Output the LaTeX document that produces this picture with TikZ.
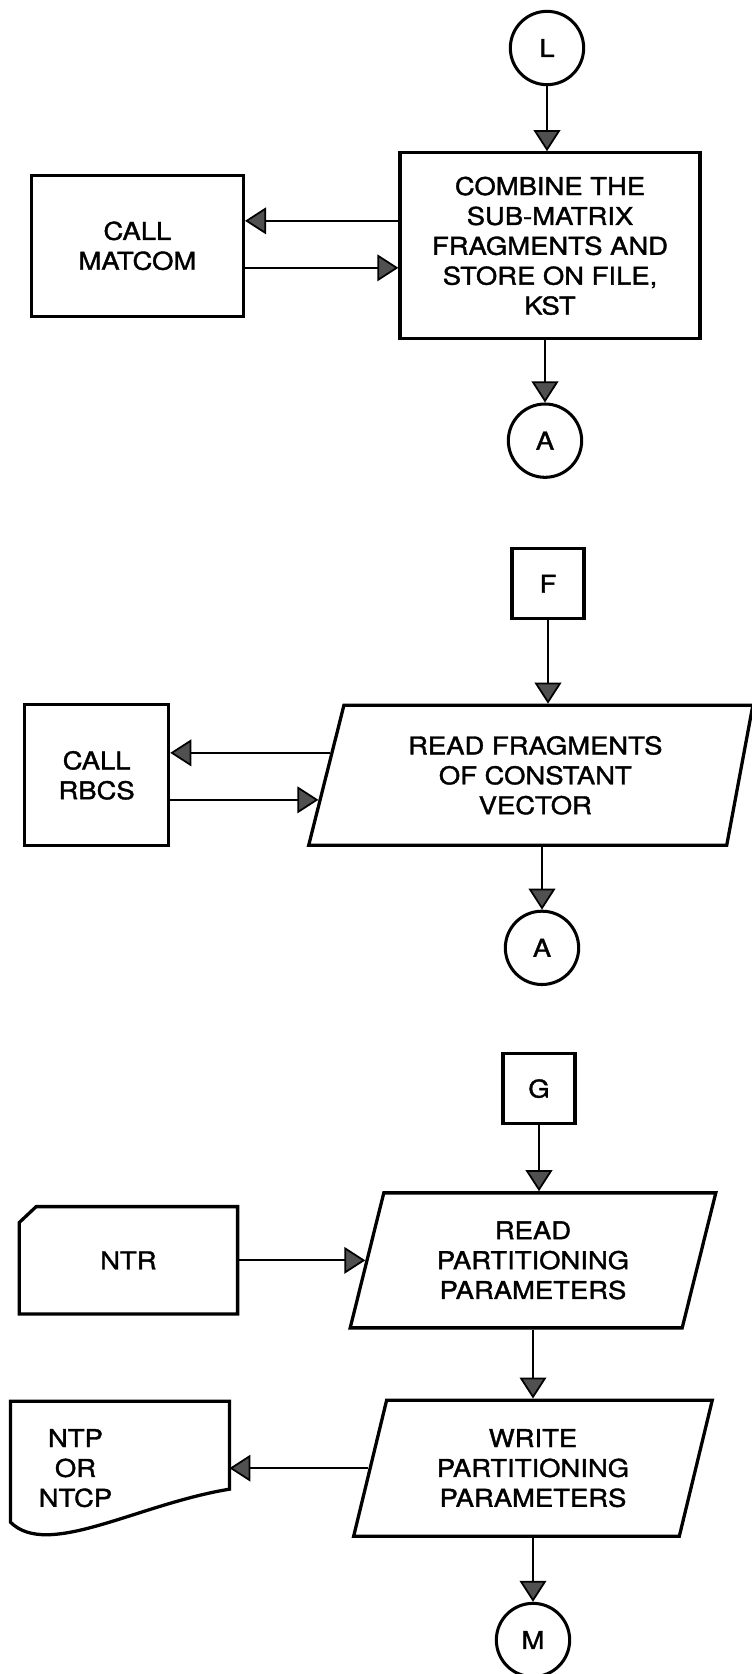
\documentclass[tikz,border=0pt]{standalone}
\usepackage{fontspec}
\setmainfont{TeX Gyre Heros}[FakeStretch=1.12, FakeBold=1.5]
\usepackage{tikz}
\usetikzlibrary{arrows.meta,positioning,shapes.geometric,calc}
\definecolor{tipgrey}{RGB}{80,80,80}

\begin{document}
\begin{tikzpicture}[
          node distance=2cm,
          font=\fontsize{20.9}{25.5}\selectfont,
          proc/.style={draw, line width=2.8pt, align=center, inner sep=2pt},
          io/.style={draw, line width=2.8pt, trapezium,
                     trapezium left angle=75, trapezium right angle=105,
                     trapezium stretches=true, align=center, inner sep=2pt},
          conn/.style={draw, circle, line width=2.6pt,
                       minimum size=2.2cm, inner sep=0pt},
          offpage/.style={draw, line width=2.7pt, minimum width=2.16cm,
                          minimum height=2.1cm, inner sep=0pt},
          outline/.style={line width=2.8pt, line join=miter},
          flow/.style={line width=1.5pt,
                       -{Triangle[length=0.63cm, width=0.8cm, fill=tipgrey]}}]
        \useasboundingbox (0,0) rectangle (22.53,-50.22);

        % first sheet: L -> combine -> A
        \node[conn] (L) at (16.41,-1.44) {L};
        \node[proc, minimum width=9cm, minimum height=5.58cm,
              below=1.95cm of L, xshift=0.09cm] (combine) {%
          COMBINE THE\\SUB-MATRIX\\FRAGMENTS AND\\STORE ON FILE,\\KST};
        \node[proc, minimum width=6.36cm, minimum height=4.23cm,
              left=4.6cm of combine] (matcom) {CALL\\MATCOM};
        \node[conn, below=1.86cm of combine, xshift=-0.15cm] (A1) {A};

        % second sheet: F -> read fragments -> A
        \node[offpage, below=2.05cm of A1, xshift=0.09cm] (F) {F};
        \node[io, trapezium left angle=74, trapezium right angle=102,
              minimum width=13.35cm, minimum height=4.2cm,
              below=2.5cm of F, xshift=-0.38cm] (readfrag) {%
          READ FRAGMENTS\\OF CONSTANT\\VECTOR};
        \node[proc, minimum width=4.32cm, minimum height=4.23cm,
              left=4.63cm of readfrag.left side] (rbcs) {CALL\\RBCS};
        \node[conn, below=1.88cm of readfrag, xshift=0.2cm] (A2) {A};

        % third sheet: G -> read / write partitioning -> M
        \node[offpage, below=1.98cm of A2, xshift=-0.09cm] (G) {G};
        \node[io, minimum width=10.98cm, minimum height=4.05cm,
              below=1.98cm of G, xshift=-0.18cm] (readpart) {%
          READ\\PARTITIONING\\PARAMETERS};
        \node[minimum width=6.54cm, minimum height=3.21cm,
              left=3.83cm of readpart.left side] (ntr) {NTR};
        \node[io, minimum width=10.77cm, minimum height=4.08cm,
              below=2.07cm of readpart] (writepart) {%
          WRITE\\PARTITIONING\\PARAMETERS};
        \node[align=center] (ntp) at ([xshift=-8.79cm]writepart.left side) {%
          NTP\\OR\\NTCP};
        \node[conn, below=1.92cm of writepart] (M) {M};

        % card and document outlines
        \draw[outline] ([yshift=-0.48cm]ntr.north west)
          -- ([xshift=0.51cm]ntr.north west) -- (ntr.north east)
          -- (ntr.south east) -- (ntr.south west) -- cycle;
        \draw[outline] ($(ntp)+(-1.95,2.01)$) -- ($(ntp)+(4.62,2.01)$)
          -- ($(ntp)+(4.62,-0.63)$)
          .. controls ($(ntp)+(1.86,-1.08)$) and ($(ntp)+(-0.84,-2.73)$)
          .. ($(ntp)+(-1.95,-1.62)$) -- cycle;
        \coordinate (ntpedge) at ($(ntp)+(4.62,0)$);

        \coordinate (rf1) at ($(readfrag.bottom left corner)!0.657!(readfrag.top left corner)$);
        \coordinate (rf2) at ($(readfrag.bottom left corner)!0.329!(readfrag.top left corner)$);

        \draw[flow] (L.south) -- (L.south |- combine.north);
        \draw[flow] ([yshift=0.75cm]combine.west) -- ([yshift=0.75cm]combine.west -| matcom.east);
        \draw[flow] ([yshift=-0.66cm]combine.west -| matcom.east) -- ([yshift=-0.66cm]combine.west);
        \draw[flow] (combine.south -| A1.north) -- (A1.north);
        \draw[flow] (F.south) -- (F.south |- readfrag.north);
        \draw[flow] (rf1) -- (rf1 -| rbcs.east);
        \draw[flow] (rf2 -| rbcs.east) -- (rf2);
        \draw[flow] (readfrag.south -| A2.north) -- (A2.north);
        \draw[flow] (G.south) -- (G.south |- readpart.north);
        \draw[flow] (ntr.east) -- (readpart.left side);
        \draw[flow] (readpart.south) -- (readpart.south |- writepart.north);
        \draw[flow] (writepart.left side) -- (writepart.left side -| ntpedge);
        \draw[flow] (writepart.south -| M.north) -- (M.north);
      \end{tikzpicture}
\end{document}
